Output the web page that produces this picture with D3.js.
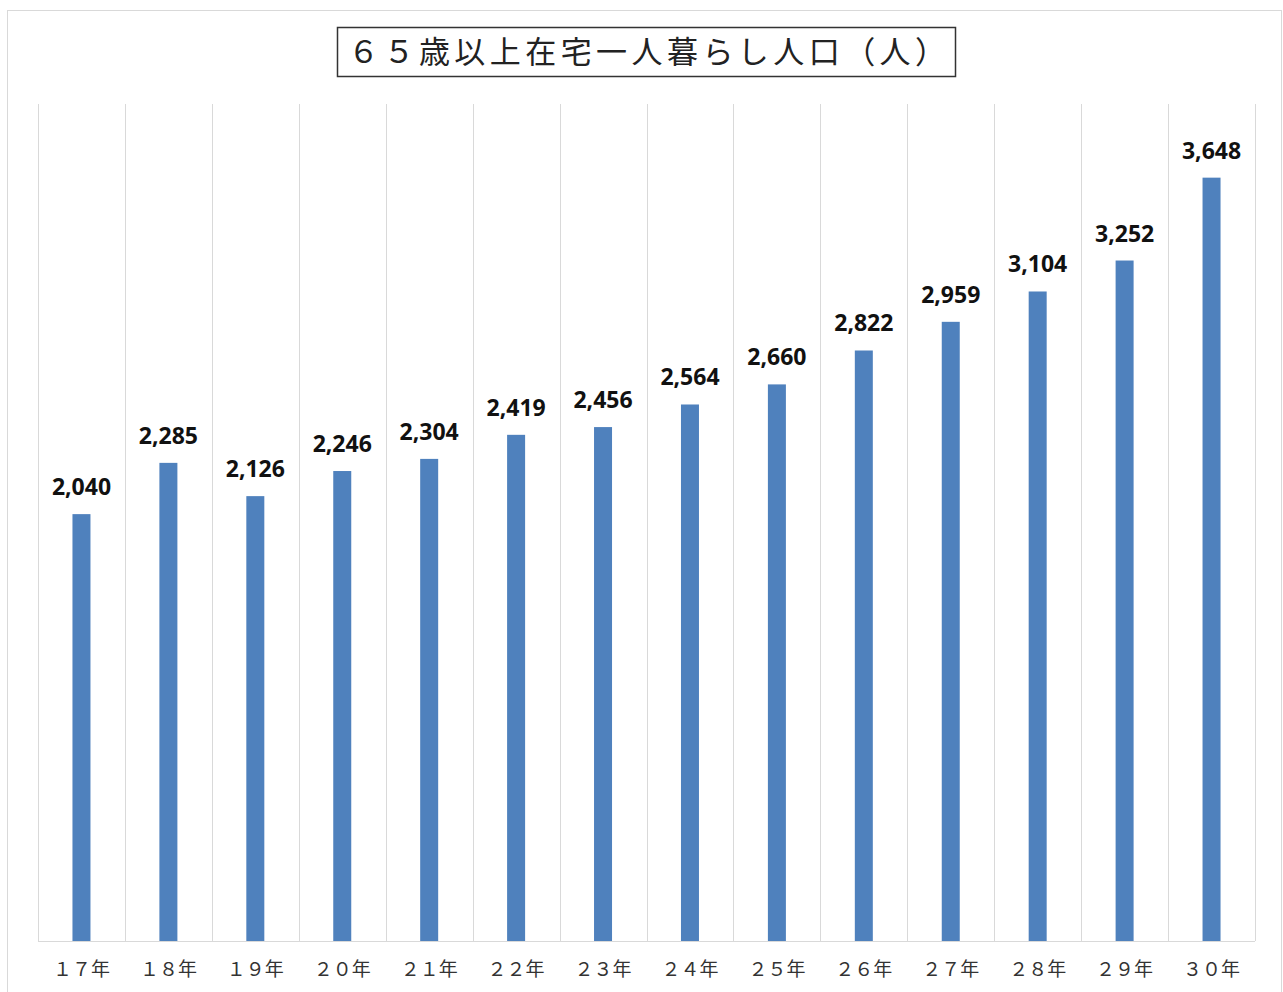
<!DOCTYPE html>
<html>
<head>
<meta charset="utf-8">
<script src="https://cdn.jsdelivr.net/npm/d3@7"></script>
<style>
  body { margin: 0; background: #fff; }
</style>
</head>
<body>
<div id="chart"></div>
<script>
const years = ["１７年", "１８年", "１９年", "２０年", "２１年", "２２年", "２３年",
    "２４年", "２５年", "２６年", "２７年", "２８年", "２９年", "３０年"];
const population = [2040, 2285, 2126, 2246, 2304, 2419, 2456, 2564, 2660, 2822, 2959, 3104, 3252, 3648];
const chartTitle = "６５歳以上在宅一人暮らし人口（人）";

const width = 1283, height = 992;
const margin = { top: 104, right: 28, bottom: 51, left: 38 };

const svg = d3.select('#chart').append('svg')
    .attr('width', width)
    .attr('height', height);

// outer frame
svg.append('rect')
    .attr('x', 7.5).attr('y', 10.5)
    .attr('width', 1274).attr('height', 990)
    .attr('fill', 'none')
    .attr('stroke', '#d9d9d9');

const x = d3.scaleBand()
    .domain(years)
    .range([margin.left, width - margin.right])
    .paddingInner(0)
    .paddingOuter(0);

const y = d3.scaleLinear()
    .domain([0, 4000])
    .range([height - margin.bottom, margin.top]);

// vertical gridlines between categories
const gridX = years.map(d => x(d)).concat([x(years[years.length - 1]) + x.bandwidth()]);
svg.append('g').selectAll('line')
    .data(gridX)
    .join('line')
    .attr('x1', d => Math.round(d) + 0.5)
    .attr('x2', d => Math.round(d) + 0.5)
    .attr('y1', margin.top)
    .attr('y2', height - margin.bottom)
    .attr('stroke', '#d9d9d9')
    .attr('stroke-width', 1);

// baseline
svg.append('line')
    .attr('x1', margin.left).attr('x2', width - margin.right)
    .attr('y1', height - margin.bottom + 0.5).attr('y2', height - margin.bottom + 0.5)
    .attr('stroke', '#d9d9d9');

const barW = 18;
const data = years.map((d, i) => ({ year: d, value: population[i] }));

svg.append('g').selectAll('rect')
    .data(data)
    .join('rect')
    .attr('x', d => x(d.year) + x.bandwidth() / 2 - barW / 2)
    .attr('y', d => y(d.value))
    .attr('width', barW)
    .attr('height', d => y(0) - y(d.value))
    .attr('fill', '#4f81bd');

const fmt = d3.format(',');
svg.append('g').selectAll('text')
    .data(data)
    .join('text')
    .attr('x', d => x(d.year) + x.bandwidth() / 2)
    .attr('y', d => y(d.value) - 19)
    .attr('text-anchor', 'middle')
    .style('font-family', '"Open Sans", "Noto Sans", sans-serif')
    .style('font-weight', 700)
    .style('font-size', '23px')
    .style('fill', '#111')
    .text(d => fmt(d.value));

// category labels
svg.append('g').selectAll('text')
    .data(years)
    .join('text')
    .attr('x', d => x(d) + x.bandwidth() / 2)
    .attr('y', 976)
    .attr('text-anchor', 'middle')
    .style('font-family', '"Noto Sans CJK JP", sans-serif')
    .style('font-size', '19px')
    .style('fill', '#333')
    .text(d => d);

// title box
svg.append('rect')
    .attr('x', 337.5).attr('y', 27.5)
    .attr('width', 618).attr('height', 49)
    .attr('fill', '#fff')
    .attr('stroke', '#333')
    .attr('stroke-width', 1.5);

svg.append('text')
    .attr('x', 348)
    .attr('y', 63)
    .attr('textLength', 598)
    .attr('lengthAdjust', 'spacing')
    .style('font-family', '"Noto Sans CJK JP", sans-serif')
    .style('font-size', '31px')
    .style('fill', '#222')
    .text(chartTitle);
</script>
</body>
</html>
